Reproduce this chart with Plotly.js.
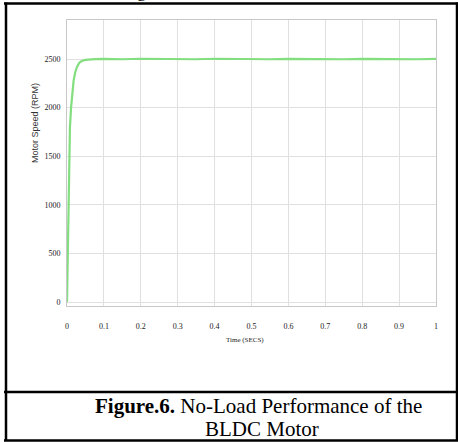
<!DOCTYPE html>
<html>
<head>
<meta charset="utf-8">
<script src="https://cdn.plot.ly/plotly-3.0.1.min.js"></script>
<style>html,body{margin:0;padding:0;background:#fff;}#chart{width:458px;height:442px;}</style>
</head>
<body>
<div id="chart"></div>
<script>
// Data
var timeSecs = [0, 0.002, 0.004, 0.006, 0.008, 0.011, 0.014, 0.018, 0.022, 0.027, 0.033, 0.04, 0.05, 0.06, 0.075, 0.1,
  0.15, 0.2, 0.25, 0.3, 0.35, 0.4, 0.45, 0.5, 0.55, 0.6, 0.65, 0.7, 0.75, 0.8, 0.85, 0.9, 0.95, 1.0];
var motorSpeed = [0, 500, 1000, 1500, 1800, 2000, 2150, 2280, 2360, 2420, 2460, 2480, 2492, 2497, 2499, 2501,
  2498, 2503, 2499, 2502, 2498, 2503, 2499, 2502, 2498, 2502, 2499, 2503, 2498, 2502, 2499, 2502, 2498, 2501];
var xTicks = [0, 0.1, 0.2, 0.3, 0.4, 0.5, 0.6, 0.7, 0.8, 0.9, 1];
var xTickLabels = ['0', '0.1', '0.2', '0.3', '0.4', '0.5', '0.6', '0.7', '0.8', '0.9', '1'];
var yTicks = [0, 500, 1000, 1500, 2000, 2500];
var yTickLabels = ['0', '500', '1000', '1500', '2000', '2500'];
var xTitle = 'Time (SECS)';
var yTitle = 'Motor Speed (RPM)';
var captionBold = 'Figure.6.';
var captionRest = ' No-Load Performance of the';
var captionLine2 = 'BLDC Motor';

var W = 458, H = 442;
var M = {l: 67, r: 22, t: 20, b: 136};
var pw = W - M.l - M.r, ph = H - M.t - M.b;
function px(X) { return (X - M.l) / pw; }
function py(Y) { return 1 - (Y - M.t) / ph; }

function hline(y, x0, x1, w) {
  return {type: 'line', xref: 'paper', yref: 'paper', x0: px(x0), x1: px(x1), y0: py(y), y1: py(y),
    line: {color: '#000', width: w}, layer: 'above'};
}
function vline(x, y0, y1, w) {
  return {type: 'line', xref: 'paper', yref: 'paper', x0: px(x), x1: px(x), y0: py(y0), y1: py(y1),
    line: {color: '#000', width: w}, layer: 'above'};
}

var serif = 'Liberation Serif, Times New Roman, serif';

var data = [{
  x: timeSecs, y: motorSpeed, type: 'scatter', mode: 'lines',
  line: {color: '#82de7e', width: 2.2}, hoverinfo: 'skip'
}];

var layout = {
  width: W, height: H,
  margin: {l: M.l, r: M.r, t: M.t, b: M.b, pad: 0},
  paper_bgcolor: '#fff', plot_bgcolor: '#fff',
  showlegend: false,
  xaxis: {
    range: [0, 1], tickvals: xTicks, ticktext: xTickLabels,
    showgrid: true, gridcolor: '#e0e0e0', gridwidth: 1, zeroline: false,
    showline: true, linecolor: '#c8c8c8', linewidth: 1, mirror: true,
    ticks: 'outside', ticklen: 12, tickcolor: 'rgba(0,0,0,0)',
    tickfont: {family: serif, size: 8, color: '#222'}
  },
  yaxis: {
    range: [-41, 2902], tickvals: yTicks, ticktext: yTickLabels,
    showgrid: true, gridcolor: '#e0e0e0', gridwidth: 1, zeroline: false,
    showline: true, linecolor: '#c8c8c8', linewidth: 1, mirror: true,
    ticks: 'outside', ticklen: 4, tickcolor: 'rgba(0,0,0,0)',
    tickfont: {family: serif, size: 8, color: '#222'}
  },
  shapes: [
    hline(3.5, 4, 458, 2.5),
    vline(6, 2.5, 441, 2.5),
    vline(457, 2.5, 441, 2.5),
    hline(392, 4, 458, 2.5),
    hline(440.5, 4, 458, 2.5)
  ],
  annotations: [
    {xref: 'paper', yref: 'paper', x: px(245), y: py(340), text: xTitle, showarrow: false,
      xanchor: 'center', yanchor: 'middle', font: {family: serif, size: 7, color: '#222'}},
    {xref: 'paper', yref: 'paper', x: px(35), y: py(123), text: yTitle, showarrow: false, textangle: -90,
      xanchor: 'center', yanchor: 'middle', font: {family: 'Liberation Sans, Arial, sans-serif', size: 9, color: '#333'}},
    {xref: 'paper', yref: 'paper', x: px(258), y: py(406), text: '<b>' + captionBold + '</b>' + captionRest,
      showarrow: false, xanchor: 'center', yanchor: 'middle', font: {family: serif, size: 21, color: '#000'}},
    {xref: 'paper', yref: 'paper', x: px(262), y: py(429), text: captionLine2,
      showarrow: false, xanchor: 'center', yanchor: 'middle', font: {family: serif, size: 21, color: '#000'}},
    {xref: 'paper', yref: 'paper', x: px(141), y: py(-9), text: 'g',
      showarrow: false, xanchor: 'center', yanchor: 'middle', font: {family: serif, size: 18, color: '#000'}}
  ]
};

Plotly.newPlot('chart', data, layout, {displayModeBar: false, staticPlot: true});
</script>
</body>
</html>
